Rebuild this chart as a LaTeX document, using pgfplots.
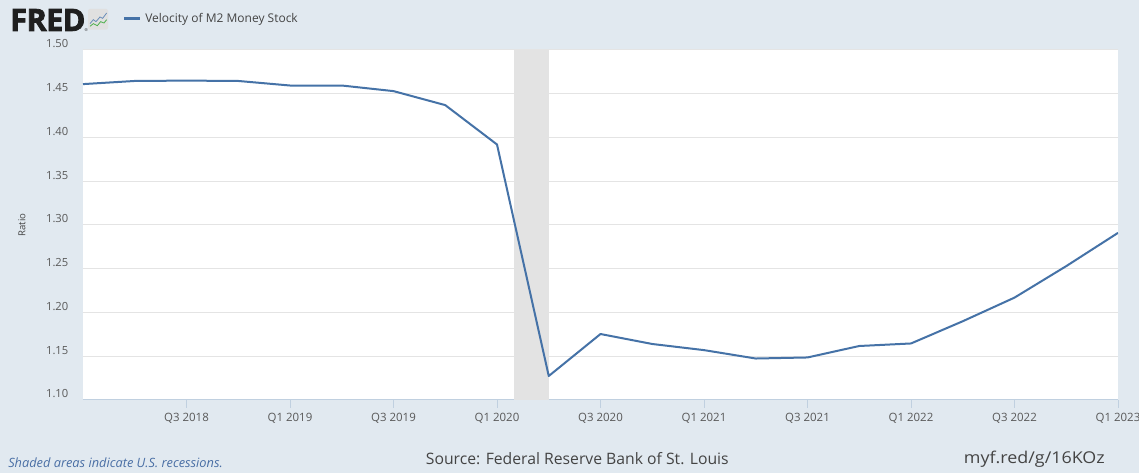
\documentclass[border=0pt]{standalone}
\usepackage{fontspec}
\setmainfont{Open Sans}
\newfontfamily\fredfont{Open Sans}[FakeBold=2.5, LetterSpace=-2]
\usepackage{pgfplots}
\pgfplotsset{compat=1.18}
\definecolor{bgc}{HTML}{E1E9F0}
\definecolor{linec}{HTML}{4572A7}
\definecolor{axisc}{HTML}{C0D0E0}
\definecolor{gridc}{HTML}{E4E4E4}
\definecolor{recc}{HTML}{E3E3E3}
\definecolor{tickc}{HTML}{595959}
\definecolor{textc}{HTML}{444444}
\definecolor{notec}{HTML}{4A6FA5}
\pgfplotstableread{
x y
0 1.461
1 1.4646
2 1.465
3 1.4646
4 1.4594
5 1.4594
6 1.453
7 1.437
8 1.392
9 1.1274
10 1.1754
11 1.164
12 1.157
13 1.1474
14 1.1486
15 1.1617
16 1.1646
17 1.190
18 1.217
19 1.253
20 1.291
}\velo
\begin{document}
\begin{tikzpicture}
\fill[bgc] (0,0) rectangle (854.25pt,354.75pt);
\begin{axis}[
  at={(62.25pt,54.75pt)}, anchor=south west,
  scale only axis, width=776.25pt, height=262.5pt,
  xmin=0, xmax=20, ymin=1.10, ymax=1.50,
  axis background/.style={fill=white},
  axis x line*=bottom, axis y line*=left,
  axis line style={-},
  x axis line style={draw=axisc, line width=0.75pt},
  y axis line style={draw=none},
  xtick={2,4,...,20},
  xticklabels={Q3 2018,Q1 2019,Q3 2019,Q1 2020,Q3 2020,Q1 2021,Q3 2021,Q1 2022,Q3 2022,Q1 2023},
  ytick={1.1,1.15,1.2,1.25,1.3,1.35,1.4,1.45,1.5},
  yticklabel style={/pgf/number format/fixed,/pgf/number format/fixed zerofill,/pgf/number format/precision=2,/pgf/number format/assume math mode=true},
  yticklabel style={font=\fontsize{8.4}{9}\selectfont, text=tickc, anchor=east, yshift=4.5pt, xshift=-1.5pt},
  xticklabel style={font=\fontsize{8.6}{9}\selectfont, text=tickc},
  ymajorgrids, grid style={gridc, line width=0.75pt},
  ytick style={draw=none},
  xtick style={draw=axisc, line width=0.75pt},
  tick align=outside, major tick length=6pt,
]
\addplot[fill=recc, draw=none, forget plot] coordinates {(8.333,1.5) (9,1.5)} \closedcycle;
\addplot[linec, line width=1.5pt, line join=round] table[x=x,y=y] {\velo};
\end{axis}
% title / legend
\node[anchor=west, inner sep=0, font=\fontsize{23}{23}\selectfont\fredfont\bfseries, text=black!88] at (7.5pt,339.75pt) {FRED};
\node[anchor=west, inner sep=0, font=\fontsize{3}{3}\selectfont, text=black!80] at (63.2pt,332pt) {®};
\fill[black!12, rounded corners=1.5pt] (66pt,332.5pt) rectangle (81pt,348pt);
\draw[linec!80, line width=0.6pt] (67.5pt,337pt) -- (70pt,340pt) -- (72pt,338.5pt) -- (75pt,342pt) -- (77pt,341pt) -- (80pt,345pt);
\draw[green!55!black!70, line width=0.6pt] (67.5pt,335pt) -- (70pt,337pt) -- (73pt,335.5pt) -- (75.5pt,338.5pt) -- (78pt,337.5pt) -- (80pt,340pt);
\draw[linec, line width=2.25pt] (93pt,340.5pt) -- (105pt,340.5pt);
\node[anchor=west, inner sep=0, font=\fontsize{9}{10}\selectfont, text=textc] at (108.75pt,340.5pt) {Velocity of M2 Money Stock};
% y label
\node[rotate=90, inner sep=0, font=\fontsize{7.2}{8}\selectfont, text=textc] at (16.5pt,186pt) {Ratio};
% footer
\node[anchor=west, inner sep=0, font=\fontsize{9.6}{10}\selectfont\itshape, text=notec] at (6pt,7.5pt) {Shaded areas indicate U.S. recessions.};
\node[inner sep=0, font=\fontsize{11.8}{13}\selectfont, text=textc] at (433pt,10.5pt) {Source: Federal Reserve Bank of St. Louis};
\node[anchor=east, inner sep=0, xscale=1.1, font=\fontsize{12.2}{13}\selectfont, text=textc] at (828.75pt,10.5pt) {myf.red/g/16KOz};
\pgfresetboundingbox
\path[use as bounding box] (0,0) rectangle (854.25pt,354.75pt);
\end{tikzpicture}
\end{document}
